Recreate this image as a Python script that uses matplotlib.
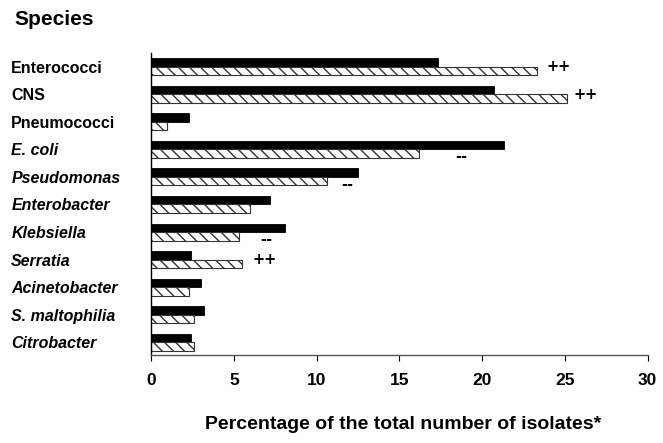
import matplotlib.pyplot as plt
import numpy as np

plt.rcParams['font.family'] = ['Liberation Sans', 'DejaVu Sans']
plt.rcParams['hatch.linewidth'] = 1.0

species = ['Enterococci', 'CNS', 'Pneumococci', 'E. coli', 'Pseudomonas',
           'Enterobacter', 'Klebsiella', 'Serratia', 'Acinetobacter',
           'S. maltophilia', 'Citrobacter']
italic = [False, False, False, True, True, True, True, True, True, True, True]
black_vals = [17.3, 20.7, 2.3, 21.3, 12.5, 7.2, 8.1, 2.4, 3.0, 3.2, 2.4]
hatch_vals = [23.3, 25.1, 0.95, 16.2, 10.6, 6.0, 5.3, 5.5, 2.3, 2.6, 2.6]
# significance marks next to the hatched bars
marks = {'Enterococci': '++', 'CNS': '++', 'E. coli': '--',
         'Pseudomonas': '--', 'Klebsiella': '--', 'Serratia': '++'}
mark_x = {'Enterococci': 23.9, 'CNS': 25.5, 'E. coli': 18.4,
          'Pseudomonas': 11.5, 'Klebsiella': 6.6, 'Serratia': 6.1}

fig = plt.figure(figsize=(6.63, 4.43), dpi=100)
left, width = 0.228, 0.749
ax = fig.add_axes([left, 0.199, width, 0.682])

y = np.arange(len(species))
h = 0.31
ax.barh(y - h / 2, black_vals, height=h, color='black', edgecolor='black', linewidth=0.6)
ax.barh(y + h / 2, hatch_vals, height=h, color='white', edgecolor='#333333',
        hatch='\\\\\\', linewidth=0.8)

for name, m in marks.items():
    i = species.index(name)
    dy = -0.15 if m == '++' else 0.12
    ax.text(mark_x[name], i + h / 2 + dy, m, ha='left', va='center',
            fontsize=10.5, fontweight='bold', family='DejaVu Sans')

ax.set_ylim(10.45, -0.5)
ax.set_xlim(0, 30)
ax.set_xticks([0, 5, 10, 15, 20, 25, 30])
ax.set_xticklabels(['0', '5', '10', '15', '20', '25', '30'], fontsize=12.5, fontweight='bold')
ax.tick_params(axis='x', length=4, width=0.8, pad=9)
ax.set_yticks(y)
ax.set_yticklabels(species, fontsize=11.5, fontweight='bold')
for lab, it in zip(ax.get_yticklabels(), italic):
    if it:
        lab.set_fontstyle('italic')
ax.tick_params(axis='y', length=0, pad=0)
for lab in ax.get_yticklabels():
    lab.set_horizontalalignment('left')
    lab.set_x((0.017 - left) / width)

ax.spines['top'].set_visible(False)
ax.spines['right'].set_visible(False)
ax.spines['left'].set_linewidth(1.0)
ax.spines['bottom'].set_linewidth(1.0)
ax.spines['bottom'].set_color('#555555')

fig.text(0.021, 0.955, 'Species', fontsize=15, fontweight='bold', va='center', ha='left')
fig.text(0.608, 0.042, 'Percentage of the total number of isolates*', fontsize=14,
         fontweight='bold', ha='center', va='center')

fig.savefig('out.png', dpi=100)
